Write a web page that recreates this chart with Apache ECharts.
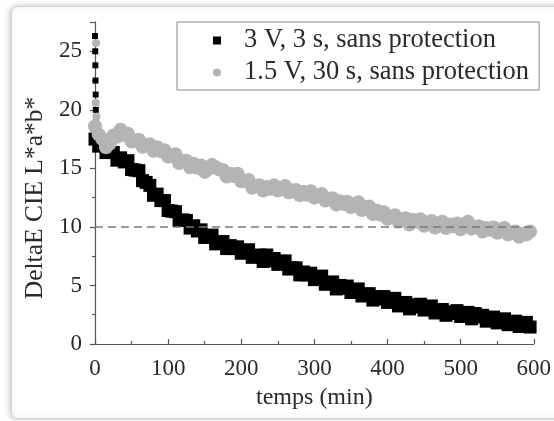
<!DOCTYPE html>
<html>
<head>
<meta charset="utf-8">
<script src="https://cdn.jsdelivr.net/npm/echarts@6/dist/echarts.min.js"></script>
<style>
html,body{margin:0;padding:0;background:#fff;width:554px;height:421px;overflow:hidden;}
#chart{position:absolute;left:0;top:0;width:554px;height:421px;}
</style>
</head>
<body>
<div id="chart"></div>
<script>
const seriesNames = ['3 V, 3 s, sans protection', '1.5 V, 30 s, sans protection'];
const xTicks = [0, 100, 200, 300, 400, 500, 600];
const yTicks = [0, 5, 10, 15, 20, 25];
const thresholdValue = 10;
const yAxisTitle = 'DeltaE CIE L*a*b*';
const xAxisTitle = 'temps (min)';

const minutes = [0,5,10,15,20,25,30,35,40,45,50,55,60,65,70,75,80,85,90,95,
100,105,110,115,120,125,130,135,140,145,150,155,160,165,170,175,180,185,190,195,
200,205,210,215,220,225,230,235,240,245,250,255,260,265,270,275,280,285,290,295,
300,305,310,315,320,325,330,335,340,345,350,355,360,365,370,375,380,385,390,395,
400,405,410,415,420,425,430,435,440,445,450,455,460,465,470,475,480,485,490,495,
500,505,510,515,520,525,530,535,540,545,550,555,560,565,570,575,580,585,590,595];

const black3V = [17.5,16.9,17.1,16.35,16.4,16.35,15.7,15.9,15.55,15.65,14.9,14.85,14.8,13.95,13.8,13.55,12.7,12.8,12.25,12.25,
11.4,11.35,11.3,10.55,10.6,10.55,9.9,10.1,9.65,9.75,9.1,9.15,9.3,8.55,8.7,8.75,8.15,8.4,8.15,8.3,
7.75,7.9,8.05,7.4,7.55,7.6,7.05,7.6,7.1,7.3,6.8,6.95,7.1,6.4,6.5,6.5,5.9,6.15,5.9,6.05,
5.5,5.65,5.8,5.1,5.25,5.3,4.7,5.0,4.75,4.95,4.4,4.55,4.7,4.1,4.25,4.3,3.75,4.05,3.85,4.05,
3.55,3.7,3.9,3.25,3.45,3.55,3.0,3.35,3.15,3.4,2.9,3.05,3.25,2.65,2.85,2.95,2.45,2.75,2.6,2.85,
2.35,2.5,2.7,2.15,2.6,2.3,2.45,1.95,2.2,2.3,1.8,2.0,2.15,1.65,1.9,1.95,1.5,1.75,1.85,1.45];

const grey15V = [18.6,17.9,17.5,16.8,17.1,17.8,17.7,18.3,17.85,17.95,17.3,17.35,17.45,16.85,17.0,17.05,16.5,16.8,16.45,16.55,
16.0,16.05,16.2,15.45,15.6,15.65,15.1,15.4,15.05,15.25,14.7,14.95,15.3,15.1,14.9,14.85,14.3,14.55,14.35,14.55,
13.9,13.95,14.0,13.35,13.5,13.55,13.1,13.4,13.25,13.55,13.1,13.35,13.5,12.95,13.1,13.15,12.7,13.0,12.75,13.05,
12.5,12.65,12.8,12.25,12.4,12.45,11.9,12.2,11.95,12.15,11.7,11.85,12.1,11.45,11.7,11.75,11.1,11.4,11.05,11.25,
10.7,10.85,11.0,10.45,10.6,10.75,10.2,10.6,10.45,10.65,10.1,10.35,10.5,9.95,10.3,10.45,9.9,10.2,10.05,10.3,
9.8,10.15,10.45,9.85,10.0,10.05,9.6,9.9,9.75,9.95,9.5,9.8,9.9,9.35,9.55,9.6,9.15,9.4,9.35,9.6];

// first readings, recorded at t ~ 0
const blackStartT = [0, 0.3, 0.5, 0.7, 0.9, 1.1, 1.3, 1.6];
const blackStartV = [26.3, 25.0, 23.8, 22.5, 21.3, 20.0, 19.0, 18.0];
const greyStartT = [1.5, 1.0, 2.0];
const greyStartV = [25.7, 20.6, 19.4];

function pairs(ts, vs) { return ts.map((t, i) => [t, vs[i]]); }
function small(ts, vs, size) { return ts.map((t, i) => ({value: [t, vs[i]], symbolSize: size})); }
const blackData = small(blackStartT, blackStartV, 6).concat(pairs(minutes, black3V));
const greyData = small(greyStartT, greyStartV, 8).concat(pairs(minutes, grey15V));

const FONT = '"Liberation Serif", "Times New Roman", serif';
const TXT = '#2a2a2a';
const AX = '#555';

const chart = echarts.init(document.getElementById('chart'), null, {renderer: 'canvas'});
chart.setOption({
  animation: false,
  backgroundColor: '#fff',
  grid: {left: 95, right: 18, top: 22, bottom: 77, containLabel: false},
  legend: {
    orient: 'vertical',
    left: 177, top: 22,
    padding: [5, 10, 4, 36],
    itemGap: 5,
    itemWidth: 44, itemHeight: 8,
    borderColor: '#8a8a8a', borderWidth: 1,
    textStyle: {fontFamily: FONT, fontSize: 26.5, lineHeight: 26, color: TXT},
    data: [
      {name: seriesNames[0], icon: 'path://M0,0H10V10H0Z'},
      {name: seriesNames[1], icon: 'circle'}
    ]
  },
  graphic: [
    {
      type: 'rect', z: -10, silent: true,
      shape: {x: 11.5, y: 6.5, width: 700, height: 412, r: 6},
      style: {fill: '#fff', stroke: '#d2d2d2', lineWidth: 1,
        shadowBlur: 6, shadowColor: 'rgba(0,0,0,0.22)', shadowOffsetX: -1, shadowOffsetY: 0}
    },
    {
      type: 'text', z: 10, x: 35, y: 198, rotation: Math.PI / 2,
      style: {text: yAxisTitle, fontFamily: FONT, fontSize: 25.5, fill: TXT, align: 'center', verticalAlign: 'middle'}
    }
  ],
  xAxis: {
    type: 'value', min: xTicks[0], max: xTicks[xTicks.length - 1], interval: 100,
    name: xAxisTitle, nameLocation: 'middle', nameGap: 42,
    nameTextStyle: {fontFamily: FONT, fontSize: 24, color: TXT},
    axisLine: {show: true, onZero: false, lineStyle: {color: AX, width: 1.2}},
    axisTick: {show: true, inside: true, length: 5, lineStyle: {color: AX, width: 1.2}},
    minorTick: {show: true, splitNumber: 2, length: 3, lineStyle: {color: AX, width: 1.2}},
    axisLabel: {fontFamily: FONT, fontSize: 23, color: TXT, margin: 13},
    splitLine: {show: false}
  },
  yAxis: {
    type: 'value', min: yTicks[0], max: 27.5, interval: 5,
    axisLine: {show: true, onZero: false, lineStyle: {color: AX, width: 1.2}},
    axisTick: {show: true, inside: false, length: 5, lineStyle: {color: AX, width: 1.2}},
    minorTick: {show: true, splitNumber: 2, length: 3, lineStyle: {color: AX, width: 1.2}},
    axisLabel: {fontFamily: FONT, fontSize: 23, color: TXT, margin: 13, showMaxLabel: false,
      formatter: v => (yTicks.indexOf(v) >= 0 ? String(v) : '')},
    splitLine: {show: false}
  },
  series: [
    {
      name: seriesNames[0], type: 'scatter', symbol: 'rect', symbolSize: 13,
      itemStyle: {color: '#000', opacity: 1},
      data: blackData, z: 2
    },
    {
      name: seriesNames[1], type: 'scatter', symbol: 'circle', symbolSize: 14,
      itemStyle: {color: '#b4b4b4', opacity: 1},
      data: greyData, z: 3,
      markLine: {
        silent: true, symbol: 'none', label: {show: false},
        lineStyle: {color: '#7a7a7a', width: 1.5, type: [8, 5]},
        data: [{yAxis: thresholdValue}]
      }
    }
  ]
});
</script>
</body>
</html>
